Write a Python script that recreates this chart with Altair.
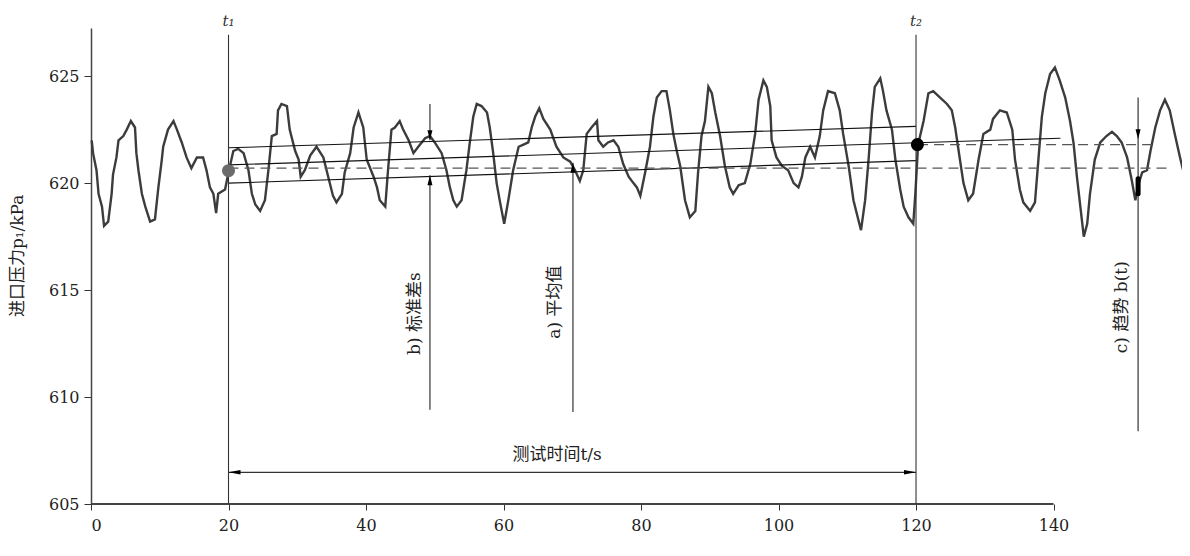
import altair as alt
import pandas as pd

# ---- measured curve (time s, inlet pressure kPa) ----
t_vals = [0.1, 0.3, 0.8, 1.1, 1.6, 1.9, 2.5, 3.0, 3.2, 3.7, 4.0, 4.7, 5.2, 5.8, 6.4, 6.6, 6.9, 7.4, 7.9, 8.6,
          9.3, 9.8, 10.3, 10.5, 11.2, 12.0, 12.5, 13.2, 13.9, 14.6, 15.4, 16.3, 16.8, 17.3, 17.8, 18.2, 18.5, 19.5,
          20.0, 20.7, 21.4, 22.2, 22.9, 23.4, 23.9, 24.6, 25.3, 25.8, 26.3, 27.0, 27.2, 27.7, 28.5, 28.9, 29.7,
          30.2, 30.5, 31.1, 31.9, 32.8, 33.8, 34.5, 35.2, 35.7, 36.5, 36.9, 37.7, 38.2, 38.9, 39.6, 40.1, 41.1,
          41.6, 42.0, 42.8, 43.2, 43.7, 44.2, 44.9, 45.4, 46.2, 46.9, 47.6, 48.6, 49.3, 50.0, 51.0, 51.7, 52.2,
          52.7, 53.2, 53.9, 54.6, 55.1, 55.6, 56.1, 56.8, 57.6, 58.0, 58.5, 59.0, 59.5, 60.1, 60.7, 61.4, 62.2,
          62.9, 63.6, 64.1, 64.6, 65.2, 65.8, 66.8, 67.7, 68.7, 69.7, 70.4, 71.1, 71.6, 72.1, 72.8, 73.6, 73.8,
          74.5, 75.2, 76.0, 76.7, 77.4, 78.2, 78.9, 79.4, 79.9, 80.6, 81.3, 81.8, 82.3, 83.0, 83.7, 84.2, 84.7,
          85.2, 85.7, 86.4, 87.1, 87.9, 88.3, 88.8, 89.3, 89.8, 90.3, 90.8, 91.5, 92.2, 92.9, 93.4, 94.2, 95.1,
          95.9, 96.6, 97.1, 97.8, 98.3, 98.8, 99.0, 99.7, 100.5, 101.4, 102.2, 102.9, 103.4, 103.9, 104.6, 105.3,
          106.0, 106.5, 107.2, 108.2, 108.9, 109.4, 110.2, 110.9, 111.6, 112.0, 112.6, 113.1, 113.6, 114.0,
          114.8, 115.2, 115.7, 116.5, 117.0, 117.7, 118.2, 118.9, 119.6, 119.9, 120.3, 121.1, 121.8, 122.5,
          123.5, 124.5, 125.2, 125.7, 126.2, 126.9, 127.6, 128.3, 129.1, 129.8, 130.8, 131.2, 132.2, 133.2,
          134.0, 134.4, 135.1, 135.6, 136.6, 137.3, 137.8, 138.3, 138.8, 139.5, 140.2, 140.9, 141.7, 142.4,
          142.9, 143.4, 143.9, 144.4, 144.9, 145.3, 146.0, 146.8, 147.7, 148.5, 149.2, 149.9, 150.7, 151.4,
          151.9, 152.4, 152.9, 153.6, 154.1, 154.8, 155.5, 156.2, 156.9, 157.7, 158.4, 159.0]
p_vals = [622.0, 621.4, 620.6, 619.5, 618.9, 618.0, 618.2, 619.5, 620.4, 621.2, 622.0, 622.2, 622.5, 622.9, 622.6,
          621.4, 620.6, 619.5, 618.9, 618.2, 618.3, 619.8, 621.1, 621.7, 622.5, 622.9, 622.5, 621.9, 621.2, 620.7,
          621.2, 621.2, 620.6, 619.8, 619.5, 618.6, 619.5, 619.7, 620.5, 621.5, 621.6, 621.4, 620.6, 619.5, 619.0,
          618.7, 619.2, 620.6, 622.2, 622.3, 623.4, 623.7, 623.6, 622.5, 621.5, 621.1, 620.3, 620.6, 621.3, 621.7,
          621.2, 620.3, 619.4, 619.1, 619.5, 620.5, 621.4, 622.6, 623.3, 622.6, 621.1, 620.3, 619.8, 619.2, 618.9,
          620.6, 622.5, 622.6, 622.9, 622.5, 622.0, 621.4, 621.7, 622.1, 622.2, 621.9, 621.4, 620.6, 619.8, 619.2,
          618.9, 619.2, 620.6, 621.9, 623.1, 623.7, 623.6, 623.3, 622.6, 621.4, 620.0, 619.1, 618.1, 619.2, 620.6,
          621.7, 621.8, 621.9, 622.6, 623.1, 623.5, 623.0, 622.5, 621.7, 621.2, 621.0, 620.6, 620.1, 620.6, 622.3,
          622.6, 622.9, 622.0, 621.7, 621.9, 622.0, 621.7, 620.9, 620.3, 620.0, 619.8, 619.4, 620.5, 621.7, 623.1,
          624.0, 624.3, 624.3, 623.4, 622.3, 621.5, 620.8, 619.2, 618.4, 618.7, 620.5, 622.2, 622.9, 624.5, 624.2,
          623.3, 622.2, 620.8, 619.8, 619.5, 619.9, 620.0, 620.9, 622.3, 623.9, 624.8, 624.5, 623.6, 622.0, 621.2,
          620.8, 620.6, 620.0, 619.8, 620.3, 621.2, 621.7, 621.2, 622.2, 623.4, 624.3, 624.2, 623.4, 622.3, 620.8,
          619.2, 618.3, 617.8, 619.2, 621.1, 623.3, 624.5, 624.9, 624.3, 623.4, 622.5, 621.1, 619.7, 618.9, 618.4,
          618.1, 619.5, 621.8, 622.9, 624.2, 624.3, 624.0, 623.7, 623.4, 622.6, 621.5, 620.0, 619.2, 619.5, 621.1,
          622.3, 622.5, 623.0, 623.4, 623.3, 622.5, 621.1, 619.7, 619.1, 618.7, 619.1, 621.1, 623.1, 624.2, 625.1,
          625.4, 624.8, 624.0, 622.9, 621.9, 620.3, 618.9, 617.5, 618.1, 619.5, 621.1, 621.9, 622.2, 622.4, 622.2,
          621.9, 621.2, 620.1, 619.2, 620.0, 620.5, 620.6, 621.5, 622.6, 623.4, 623.9, 623.4, 622.2, 621.2, 620.4]

# ---- fitted lines (solid): start t, end t, start p, end p ----
fit_t0 = [20, 20, 20]
fit_t1 = [120, 141, 120]
fit_p0 = [621.65, 620.85, 620.0]
fit_p1 = [622.65, 622.1, 621.05]

# ---- dashed reference levels ----
dash_t0 = [20, 120.3]
dash_t1 = [156.5, 154.4]
dash_p = [620.7, 621.8]

# ---- vertical markers t1, t2 ----
mark_t = [20, 120]
mark_lbl = ["t\u2081", "t\u2082"]
mark_top = 626.93
mark_lbl_p = 627.6

# ---- annotation leader lines ----
lead_t = [49.3, 49.3, 70.1, 152.3]
lead_p0 = [623.7, 609.4, 609.3, 608.4]
lead_p1 = [622.0, 620.37, 620.95, 624.0]

# ---- arrow heads ----
DOWN = "M0,0L-0.5,-2L0.5,-2Z"
UP = "M0,0L-0.5,2L0.5,2Z"
LEFT = "M0,0L2.4,-0.45L2.4,0.45Z"
RIGHT = "M0,0L-2.4,-0.45L-2.4,0.45Z"
head_t = [49.3, 49.3, 70.1, 152.3, 20, 120]
head_p = [622.0, 620.37, 620.95, 622.05, 606.48, 606.48]
head_shape = [DOWN, UP, UP, DOWN, LEFT, RIGHT]

# ---- test-time span arrow ----
span_t0 = [20]
span_t1 = [120]
span_p = [606.48]

# ---- rotated labels ----
lab_text = ["b) 标准差s", "a) 平均值", "c) 趋势  b(t)"]
lab_t = [47.1, 67.5, 149.9]
lab_p = [613.9, 614.44, 614.2]

span_text = ["测试时间t/s"]
span_text_t = [67.8]
span_text_p = [607.3]

ytitle = ["进口压力p\u2081/kPa"]
ytitle_p = [616.6]

# ---- dots ----
dot_t = [20.0, 120.2]
dot_p = [620.58, 621.8]
dot_col = ["#6b6b6b", "#000000"]
blob_t = [152.3]
blob_p0 = [619.5]
blob_p1 = [620.2]

x_ticks = [0, 20, 40, 60, 80, 100, 120, 140]
y_ticks = [605, 610, 615, 620, 625]

FONT = "DejaVu Serif, Noto Sans CJK SC"
XDOM = [0, 158.25]
YDOM = [605, 627.25]

xs = alt.Scale(domain=XDOM, nice=False, zero=False)
ys = alt.Scale(domain=YDOM, nice=False, zero=False)

curve_df = pd.DataFrame({"t": t_vals, "p": p_vals})

base_x = alt.X("t:Q", scale=xs,
               axis=alt.Axis(values=x_ticks, domain=False, grid=False, title=None,
                             tickColor="#333", tickSize=6, labelPadding=7,
                             labelFont=FONT, labelFontSize=16, labelColor="#222"))
base_y = alt.Y("p:Q", scale=ys,
               axis=alt.Axis(values=y_ticks, grid=False, title=None, domainColor="#444",
                             domainWidth=1.5, tickColor="#333", tickSize=7, labelPadding=5,
                             labelFont=FONT, labelFontSize=16, labelColor="#222"))

curve = alt.Chart(curve_df).mark_line(color="#3c3c3c", strokeWidth=2.4, strokeJoin="miter").encode(
    x=base_x, y=base_y, order="t:Q")

xaxis_line = alt.Chart(pd.DataFrame({"a": [0], "b": [140], "p": [605]})).mark_rule(
    color="#444", strokeWidth=1.8).encode(x=alt.X("a:Q", scale=xs), x2="b:Q", y=alt.Y("p:Q", scale=ys))

fits = alt.Chart(pd.DataFrame({"a": fit_t0, "b": fit_t1, "p0": fit_p0, "p1": fit_p1})).mark_rule(
    color="#111", strokeWidth=1.1).encode(x=alt.X("a:Q", scale=xs), x2="b:Q",
                                          y=alt.Y("p0:Q", scale=ys), y2="p1:Q")

dashes = alt.Chart(pd.DataFrame({"a": dash_t0, "b": dash_t1, "p": dash_p})).mark_rule(
    color="#555", strokeWidth=1.4, strokeDash=[10, 6]).encode(
    x=alt.X("a:Q", scale=xs), x2="b:Q", y=alt.Y("p:Q", scale=ys))

vmarks = alt.Chart(pd.DataFrame({"t": mark_t, "p0": [605, 605], "p1": [mark_top, mark_top]})).mark_rule(
    color="#333", strokeWidth=1.1).encode(x=alt.X("t:Q", scale=xs), y=alt.Y("p0:Q", scale=ys), y2="p1:Q")

vlabels = alt.Chart(pd.DataFrame({"t": mark_t, "p": [mark_lbl_p] * 2, "s": mark_lbl})).mark_text(
    font=FONT, fontSize=15, fontStyle="italic", color="#333", baseline="middle", align="center").encode(
    x=alt.X("t:Q", scale=xs), y=alt.Y("p:Q", scale=ys), text="s:N")

leads = alt.Chart(pd.DataFrame({"t": lead_t, "p0": lead_p0, "p1": lead_p1})).mark_rule(
    color="#222", strokeWidth=1.1).encode(x=alt.X("t:Q", scale=xs), y=alt.Y("p0:Q", scale=ys), y2="p1:Q")

span = alt.Chart(pd.DataFrame({"a": span_t0, "b": span_t1, "p": span_p})).mark_rule(
    color="#333", strokeWidth=1.3).encode(x=alt.X("a:Q", scale=xs), x2="b:Q", y=alt.Y("p:Q", scale=ys))

heads = alt.Chart(pd.DataFrame({"t": head_t, "p": head_p, "s": head_shape})).mark_point(
    filled=True, color="#000", opacity=1, size=100, strokeWidth=0).encode(
    x=alt.X("t:Q", scale=xs), y=alt.Y("p:Q", scale=ys), shape=alt.Shape("s:N", scale=None))

dots = alt.Chart(pd.DataFrame({"t": dot_t, "p": dot_p, "c": dot_col})).mark_point(
    filled=True, opacity=1, size=170, shape="circle", strokeWidth=0).encode(
    x=alt.X("t:Q", scale=xs), y=alt.Y("p:Q", scale=ys), color=alt.Color("c:N", scale=None))

blob = alt.Chart(pd.DataFrame({"t": blob_t, "p0": blob_p0, "p1": blob_p1})).mark_rule(
    color="#000", strokeWidth=5, strokeCap="round").encode(
    x=alt.X("t:Q", scale=xs), y=alt.Y("p0:Q", scale=ys), y2="p1:Q")

labels = alt.Chart(pd.DataFrame({"t": lab_t, "p": lab_p, "s": lab_text})).mark_text(
    font=FONT, fontSize=17, angle=270, color="#222", baseline="middle", align="center").encode(
    x=alt.X("t:Q", scale=xs), y=alt.Y("p:Q", scale=ys), text="s:N")

span_lbl = alt.Chart(pd.DataFrame({"t": span_text_t, "p": span_text_p, "s": span_text})).mark_text(
    font=FONT, fontSize=17, color="#222", baseline="middle", align="center").encode(
    x=alt.X("t:Q", scale=xs), y=alt.Y("p:Q", scale=ys), text="s:N")

ylab = alt.Chart(pd.DataFrame({"p": ytitle_p, "s": ytitle})).mark_text(
    font=FONT, fontSize=17, angle=270, color="#222", baseline="middle", align="center").encode(
    x=alt.value(-73), y=alt.Y("p:Q", scale=ys), text="s:N")

chart = alt.layer(curve, xaxis_line, fits, dashes, vmarks, vlabels, leads, span, heads, dots, blob,
                  labels, span_lbl, ylab).properties(
    width=1088, height=476,
    autosize=alt.AutoSizeParams(type="none"),
    padding={"left": 83, "top": 20, "right": 3, "bottom": 44},
    background="white",
).configure_view(stroke=None)

chart.save("out.html", embed_options={"renderer": "svg", "actions": False})
